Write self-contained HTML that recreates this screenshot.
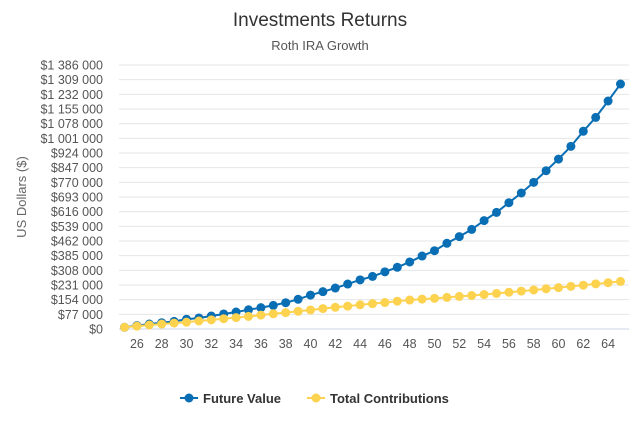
<!DOCTYPE html>
<html><head><meta charset="utf-8"><style>
body{margin:0;background:#fff;font-family:"Liberation Sans",sans-serif;}
svg text{font-family:"Liberation Sans",sans-serif;}
</style></head><body>
<svg width="640" height="427" id="c">
<text x="320" y="26" text-anchor="middle" font-size="19" fill="#333">Investments Returns</text>
<text x="320" y="50" text-anchor="middle" font-size="13" fill="#555">Roth IRA Growth</text>
<text transform="translate(26,197) rotate(-90)" text-anchor="middle" font-size="13" fill="#666">US Dollars ($)</text>
<g id="grid"></g><g id="ylab"></g><g id="xlab"></g><g id="series"></g>
<g>
<g><line x1="180" y1="398" x2="198" y2="398" stroke="#0a6eb4" stroke-width="2"/><circle cx="189" cy="398" r="4.5" fill="#0a6eb4"/><text x="203" y="403" font-size="13" font-weight="bold" fill="#333">Future Value</text></g>
<g><line x1="307" y1="398" x2="325" y2="398" stroke="#fdd24f" stroke-width="2"/><circle cx="316" cy="398" r="4.5" fill="#fdd24f"/><text x="330" y="403" font-size="13" font-weight="bold" fill="#333">Total Contributions</text></g>
</g>
</svg>
<script>
const ages=[25,26,27,28,29,30,31,32,33,34,35,36,37,38,39,40,41,42,43,44,45,46,47,48,49,50,51,52,53,54,55,56,57,58,59,60,61,62,63,64,65];
const futureValue=[9000,18000,26000,33000,40000,51000,58000,68000,79000,89000,101000,112000,124000,138000,156000,178000,196000,215000,236000,258000,276000,300000,324000,352000,383000,411000,450000,485000,523000,569000,612000,663000,714000,770000,831000,892000,959000,1038000,1111000,1197000,1286000];
const contributions=[9000,15000,21000,26000,31000,36000,42000,48000,54000,60000,66000,73000,80000,86000,93000,100000,107000,114000,120000,127000,133000,139000,146000,152000,157000,161000,166000,171000,176000,181000,187000,193000,199000,205000,211000,217000,224000,230000,237000,243000,250000];
const yTicks=[0,77000,154000,231000,308000,385000,462000,539000,616000,693000,770000,847000,924000,1001000,1078000,1155000,1232000,1309000,1386000];
const xTicks=[26,28,30,32,34,36,38,40,42,44,46,48,50,52,54,56,58,60,62,64];
const NS='http://www.w3.org/2000/svg';
const X=a=>124.5+(a-25)*12.4, Y=v=>329-v/1386000*264;
function mk(t,at,p){const e=document.createElementNS(NS,t);for(const k in at)e.setAttribute(k,at[k]);p.appendChild(e);return e;}
const fmt=v=>'$'+v.toString().replace(/\B(?=(\d{3})+(?!\d))/g,' ');
const g=document.getElementById('grid'),yl=document.getElementById('ylab'),xl=document.getElementById('xlab'),s=document.getElementById('series');
yTicks.forEach(v=>{const l=mk('line',{x1:119,x2:629,y1:Y(v),y2:Y(v),stroke:v===0?'#ccd6eb':'#e6e6e6','stroke-width':1},g);

const t=mk('text',{x:103,y:Y(v)+4.5,'text-anchor':'end','font-size':12.5,fill:'#555'},yl);t.textContent=fmt(v);
});
xTicks.forEach(a=>{const t=mk('text',{x:X(a),y:348,'text-anchor':'middle','font-size':12.5,fill:'#555'},xl);t.textContent=a;
});
function series(vals,col,name){
const p=mk('polyline',{points:vals.map((v,i)=>X(ages[i])+','+Y(v)).join(' '),fill:'none',stroke:col,'stroke-width':2},s);

vals.forEach((v,i)=>{const c=mk('circle',{cx:X(ages[i]),cy:Y(v),r:4.5,fill:col},s);
});}
series(futureValue,'#0a6eb4','future-value');
series(contributions,'#fdd24f','total-contributions');
</script>
</body></html>
